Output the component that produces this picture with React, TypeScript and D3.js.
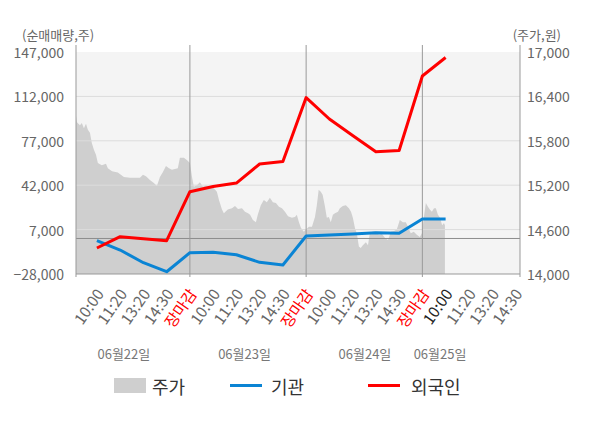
import React from 'react';
import * as d3 from 'd3';

// x-axis labels, one per slot (slot 1..19)
const timeLabels = [
  '10:00', '11:20', '13:20', '14:30', '장마감',
  '10:00', '11:20', '13:20', '14:30', '장마감',
  '10:00', '11:20', '13:20', '14:30', '장마감',
  '10:00', '11:20', '13:20', '14:30',
];
const dateLabels = ['06월22일', '06월23일', '06월24일', '06월25일'];
const leftTicks = [-28000, 7000, 42000, 77000, 112000, 147000];
const rightTicks = [14000, 14600, 15200, 15800, 16400, 17000];

// net buying (shares) at slots 1..16
const foreign = [-7500, 1400, -200, -1750, 36900, 41000, 43700, 58700, 60700, 111100, 94200, 81200, 68400, 69400, 128100, 142700];
const institution = [-1750, -9100, -19100, -26200, -11200, -10900, -12800, -18800, -20900, 1950, 2700, 3500, 4600, 4100, 15400, 15400];

// intraday price (won), position in slot units
const priceSlot = [
  0.10, 0.14, 0.27, 0.35, 0.44, 0.53, 0.61, 0.70, 0.78, 0.87,
  0.96, 1.04, 1.21, 1.39, 1.47, 1.65, 1.90, 2.16, 2.42, 2.68,
  2.85, 2.98, 3.11, 3.28, 3.45, 3.58, 3.71, 3.84, 3.97, 4.10,
  4.23, 4.35, 4.48, 4.57, 4.74, 4.87, 5.00, 5.09, 5.17, 5.30,
  5.43, 5.56, 5.69, 5.86, 6.03, 6.16, 6.25, 6.38, 6.46, 6.63,
  6.81, 6.94, 7.07, 7.24, 7.37, 7.50, 7.59, 7.71, 7.84, 7.92,
  8.05, 8.18, 8.31, 8.44, 8.57, 8.70, 8.83, 8.96, 9.09, 9.22,
  9.39, 9.52, 9.60, 9.69, 9.78, 9.90, 9.99, 10.12, 10.25, 10.38,
  10.46, 10.54, 10.63, 10.71, 10.80, 10.89, 10.98, 11.06, 11.15, 11.24,
  11.37, 11.45, 11.58, 11.71, 11.84, 11.93, 12.01, 12.10, 12.18, 12.27,
  12.35, 12.44, 12.57, 12.66, 12.74, 12.87, 13.00, 13.13, 13.26, 13.39,
  13.52, 13.65, 13.78, 13.90, 14.03, 14.16, 14.29, 14.38, 14.50, 14.63,
  14.76, 14.89, 14.98, 15.06, 15.15, 15.24, 15.32, 15.41, 15.50, 15.58,
  15.67, 15.76, 15.85, 15.93, 15.97,
];
const price = [
  16140, 16050, 16010, 16040, 15970, 16030, 15950, 15910, 15770, 15680,
  15610, 15500, 15470, 15490, 15430, 15390, 15370, 15310, 15300, 15300,
  15300, 15340, 15320, 15270, 15230, 15190, 15310, 15380, 15460, 15430,
  15410, 15420, 15430, 15570, 15570, 15540, 15500, 15310, 15180, 15200,
  15240, 15180, 15200, 15180, 15160, 15110, 15000, 14870, 14820, 14870,
  14890, 14920, 14880, 14890, 14840, 14820, 14800, 14730, 14700, 14800,
  14930, 15000, 14970, 15030, 14970, 14960, 14910, 14890, 14840, 14780,
  14760, 14770, 14800, 14700, 14620, 14570, 14600, 14640, 14640, 14770,
  14930, 15140, 15110, 15070, 14930, 14760, 14770, 14700, 14800, 14820,
  14840, 14890, 14920, 14930, 14890, 14840, 14760, 14620, 14550, 14370,
  14350, 14390, 14430, 14390, 14550, 14570, 14570, 14530, 14540, 14490,
  14460, 14570, 14580, 14600, 14730, 14700, 14700, 14640, 14550, 14570,
  14530, 14500, 14550, 14760, 14960, 14910, 14870, 14840, 14890, 14890,
  14800, 14760, 14660, 14690, 14660,
];

const W = 600;
const H = 428;
const plot = { left: 76, right: 520, top: 52, bottom: 274 };
const FONT = "'Noto Sans CJK KR', 'Noto Sans', sans-serif";

const App: React.FC = () => {
  const x = d3.scaleLinear().domain([0.1, 19.2]).range([plot.left, plot.right]);
  const yL = d3.scaleLinear().domain([-28000, 147000]).range([plot.bottom, plot.top]);
  const yR = d3.scaleLinear().domain([14000, 17000]).range([plot.bottom, plot.top]);

  const area = d3
    .area<number>()
    .x((_, i) => x(priceSlot[i]))
    .y0(plot.bottom)
    .y1(d => yR(d));

  const line = d3
    .line<number>()
    .x((_, i) => x(i + 1))
    .y(d => yL(d));

  const dayBounds = [5, 10, 15];
  const dateOffsets = [2.16, 7.35, 12.53, 15.76];

  return (
    <svg
      width={W}
      height={H}
      style={{ position: 'absolute', left: 0, top: 0, background: '#fff' }}
      fontFamily={FONT}
    >
      {/* plot background */}
      <rect x={plot.left} y={plot.top} width={plot.right - plot.left} height={plot.bottom - plot.top} fill="#f4f4f4" />

      {/* price area */}
      <path d={area(price) || ''} fill="#cfcfcf" />

      {/* grid */}
      {leftTicks.slice(1, -1).map(t => (
        <line key={t} x1={plot.left} x2={plot.right} y1={yL(t)} y2={yL(t)} stroke="#dcdcdc" strokeWidth={1} />
      ))}
      <line x1={plot.left} x2={plot.right} y1={yL(0)} y2={yL(0)} stroke="#8c8c8c" strokeWidth={1} />

      {/* verticals */}
      {[0.1, ...dayBounds, 19.2].map(b => (
        <line key={b} x1={x(b)} x2={x(b)} y1={45} y2={plot.bottom + 3} stroke="#999" strokeWidth={1} />
      ))}
      <line x1={plot.left} x2={plot.right} y1={plot.bottom} y2={plot.bottom} stroke="#999" strokeWidth={1} />

      {/* series lines */}
      <path d={line(institution) || ''} fill="none" stroke="#0a84d4" strokeWidth={3} strokeLinejoin="round" />
      <path d={line(foreign) || ''} fill="none" stroke="#ff0000" strokeWidth={3} strokeLinejoin="round" />

      {/* axis titles */}
      <text x={22} y={34} fontSize={13} fill="#666" dominantBaseline="central">(순매매량,주)</text>
      <text x={561} y={34} fontSize={13} fill="#666" dominantBaseline="central" textAnchor="end">(주가,원)</text>

      {/* left ticks */}
      {leftTicks.map(t => (
        <text key={t} x={64} y={yL(t)} fontSize={14} fill="#666" textAnchor="end" dominantBaseline="central">
          {d3.format(',')(t)}
        </text>
      ))}
      {/* right ticks */}
      {rightTicks.map(t => (
        <text key={t} x={527} y={yR(t)} fontSize={14} fill="#666" dominantBaseline="central">
          {d3.format(',')(t)}
        </text>
      ))}

      {/* x labels */}
      {timeLabels.map((lab, i) => {
        const k = i + 1;
        const color = lab === '장마감' ? '#ff0000' : k === 16 ? '#222' : '#666';
        return (
          <text
            key={k}
            transform={`translate(${x(k) + 2},${290}) rotate(-55)`}
            fontSize={15.5}
            fill={color}
            textAnchor="end"
            dominantBaseline="central"
          >
            {lab}
          </text>
        );
      })}

      {/* dates */}
      {dateLabels.map((d, i) => (
        <text key={d} x={x(dateOffsets[i])} y={353} fontSize={13} fill="#777" textAnchor="middle" dominantBaseline="central">
          {d}
        </text>
      ))}

      {/* legend */}
      <g fontSize={18} fill="#333">
        <rect x={114} y={378} width={32} height={15} fill="#cfcfcf" />
        <text x={152} y={385.5} dominantBaseline="central">주가</text>
        <line x1={230} x2={262} y1={385.5} y2={385.5} stroke="#0a84d4" strokeWidth={3} />
        <text x={271} y={385.5} dominantBaseline="central">기관</text>
        <line x1={368} x2={400} y1={385.5} y2={385.5} stroke="#ff0000" strokeWidth={3} />
        <text x={411} y={385.5} dominantBaseline="central">외국인</text>
      </g>
    </svg>
  );
};

export default App;
